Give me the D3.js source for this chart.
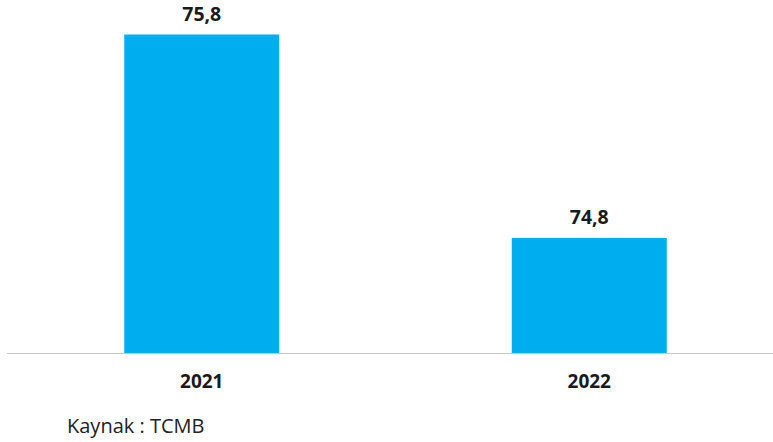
<!DOCTYPE html>
<html>
<head>
<script src="https://cdn.jsdelivr.net/npm/d3@7"></script>
<style>
  body { margin: 0; background: #fff; }
  svg { display: block; }
</style>
</head>
<body>
<div id="chart"></div>
<script>
var years = ["2021", "2022"];
var values = [75.8, 74.8];
var valueLabels = ["75,8", "74,8"];

var W = 773, H = 442;
var svg = d3.select("#chart").append("svg")
  .attr("width", W)
  .attr("height", H);

// bars sit on a non-zero base
var x = d3.scaleBand()
  .domain(years)
  .range([8, 783])
  .paddingInner(0.6)
  .paddingOuter(0.3);

var y = d3.scaleLinear()
  .domain([74.234, 75.8])
  .range([353, 34.5]);

svg.selectAll("rect.bar")
  .data(values)
  .enter().append("rect")
  .attr("class", "bar")
  .attr("x", function(d, i) { return x(years[i]); })
  .attr("width", x.bandwidth())
  .attr("y", function(d) { return y(d); })
  .attr("height", function(d) { return y.range()[0] - y(d); })
  .attr("fill", "#00aeef");

svg.append("line")
  .attr("x1", 7).attr("x2", W)
  .attr("y1", 353.5).attr("y2", 353.5)
  .attr("stroke", "#c8c8c8")
  .attr("stroke-width", 1.2);

svg.selectAll("text.val")
  .data(values)
  .enter().append("text")
  .attr("class", "val")
  .attr("x", function(d, i) { return x(years[i]) + x.bandwidth() / 2; })
  .attr("y", function(d) { return y(d) - 14; })
  .attr("text-anchor", "middle")
  .attr("font-family", "Open Sans, sans-serif")
  .attr("font-weight", "bold")
  .attr("font-size", "19.5px")
  .attr("fill", "#1a1a1a")
  .text(function(d, i) { return valueLabels[i]; });

svg.selectAll("text.year")
  .data(years)
  .enter().append("text")
  .attr("class", "year")
  .attr("x", function(d) { return x(d) + x.bandwidth() / 2; })
  .attr("y", 388)
  .attr("text-anchor", "middle")
  .attr("font-family", "Open Sans, sans-serif")
  .attr("font-weight", "bold")
  .attr("font-size", "19px")
  .attr("fill", "#1a1a1a")
  .text(function(d) { return d; });

svg.append("text")
  .attr("x", 67)
  .attr("y", 433)
  .attr("font-family", "Open Sans, sans-serif")
  .attr("font-size", "20px")
  .attr("fill", "#222")
  .text("Kaynak : TCMB");
</script>
</body>
</html>
